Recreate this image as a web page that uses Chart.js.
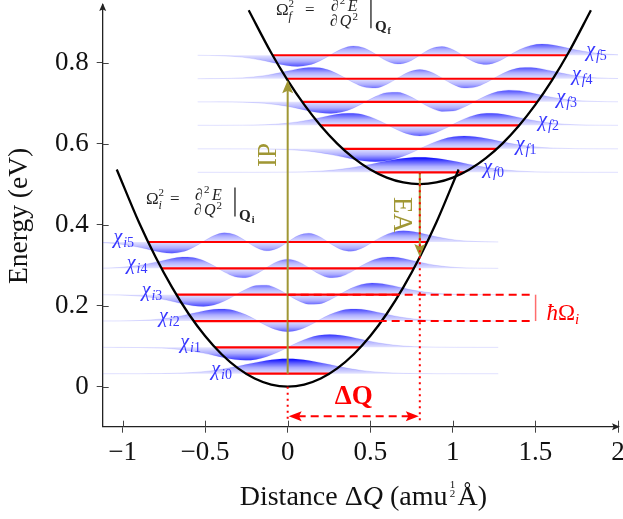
<!DOCTYPE html>
<html>
<head>
<meta charset="utf-8">
<script src="https://cdn.jsdelivr.net/npm/chart.js@4.4.0/dist/chart.umd.min.js"></script>
<style>
  html, body { margin: 0; padding: 0; background: #fff; }
</style>
</head>
<body>
<canvas id="chart" width="623" height="519"></canvas>
<script>
// axis ticks
const xTicks = [-1, -0.5, 0, 0.5, 1, 1.5, 2];
const xTickLabels = ['\u22121', '\u22120.5', '0', '0.5', '1', '1.5', '2'];
const yTicks = [0, 0.2, 0.4, 0.6, 0.8];
const yTickLabels = ['0', '0.2', '0.4', '0.6', '0.8'];

// potential wells
const wellIX = [-1.035, -0.9, -0.8, -0.7, -0.6, -0.5, -0.4, -0.3, -0.2, -0.1, 0, 0.1, 0.2, 0.3, 0.4, 0.5, 0.6, 0.7, 0.8, 0.9, 1.035];
const wellIY = [0.536, 0.405, 0.32, 0.245, 0.18, 0.125, 0.08, 0.045, 0.02, 0.005, 0, 0.005, 0.02, 0.045, 0.08, 0.125, 0.18, 0.245, 0.32, 0.405, 0.536];
const wellFX = [-0.236, -0.1, 0, 0.1, 0.2, 0.3, 0.4, 0.5, 0.6, 0.7, 0.8, 0.9, 1.0, 1.1, 1.2, 1.3, 1.4, 1.5, 1.6, 1.7, 1.836];
const wellFY = [0.929, 0.824, 0.756, 0.696, 0.644, 0.6, 0.564, 0.536, 0.516, 0.504, 0.5, 0.504, 0.516, 0.536, 0.564, 0.6, 0.644, 0.696, 0.756, 0.824, 0.929];

// vibrational levels
const levelsI = [0.032, 0.097, 0.162, 0.227, 0.292, 0.357];
const levelsILeft = [-0.253, -0.440, -0.569, -0.674, -0.764, -0.845];
const levelsIRight = [0.253, 0.440, 0.569, 0.674, 0.764, 0.845];
const levelsF = [0.529, 0.587, 0.645, 0.703, 0.760, 0.818];
const levelsFLeft = [0.531, 0.334, 0.198, 0.088, -0.006, -0.092];
const levelsFRight = [1.069, 1.266, 1.402, 1.512, 1.606, 1.692];
const stateNamesI = ['i0', 'i1', 'i2', 'i3', 'i4', 'i5'];
const stateNamesF = ['f0', 'f1', 'f2', 'f3', 'f4', 'f5'];

// wavefunction sample positions and shapes
const waveXI = [-1.275, -1.148, -1.02, -0.893, -0.765, -0.701, -0.638, -0.574, -0.51, -0.446, -0.383, -0.319, -0.255, -0.191, -0.128, -0.064, 0,
  0.064, 0.128, 0.191, 0.255, 0.319, 0.383, 0.446, 0.51, 0.574, 0.638, 0.701, 0.765, 0.893, 1.02, 1.148, 1.275];
const waveXF = [-0.545, -0.411, -0.276, -0.142, -0.007, 0.060, 0.128, 0.195, 0.262, 0.329, 0.397, 0.464, 0.531, 0.598, 0.666, 0.733, 0.8,
  0.867, 0.934, 1.002, 1.069, 1.136, 1.204, 1.271, 1.338, 1.405, 1.473, 1.540, 1.607, 1.742, 1.876, 2.011, 2.145];
const psi0 = [0, 0, .0003, .002, .011, .023, .044, .080, .135, .216, .325, .458, .607, .755, .883, .969, 1, .969, .883, .755, .607, .458, .325, .216, .135, .080, .044, .023, .011, .002, .0003, 0, 0];
const psi1 = [0, 0, -.002, -.011, -.047, -.089, -.155, -.253, -.383, -.535, -.689, -.809, -.858, -.801, -.624, -.343, 0, .343, .624, .801, .858, .809, .689, .535, .383, .253, .155, .089, .047, .011, .002, 0, 0];
const psi2 = [0, .001, .007, .036, .134, .228, .357, .513, .670, .784, .804, .688, .429, .067, -.312, -.600, -.707, -.600, -.312, .067, .429, .688, .804, .784, .670, .513, .357, .228, .134, .036, .007, .001, 0];
const psi3 = [-.001, -.004, -.022, -.095, -.289, -.439, -.603, -.736, -.781, -.683, -.422, -.041, .350, .613, .637, .402, 0, -.402, -.637, -.613, -.350, .041, .422, .683, .781, .736, .603, .439, .289, .095, .022, .004, .001];
const psi4 = [.002, .012, .057, .204, .497, .656, .756, .727, .525, .166, -.249, -.559, -.619, -.383, .045, .448, .612, .448, .045, -.383, -.619, -.559, -.249, .166, .525, .727, .756, .656, .497, .204, .057, .012, .002];
const psi5 = [-.005, -.029, -.124, -.366, -.684, -.749, -.656, -.376, .035, .427, .613, .479, .078, -.367, -.584, -.431, 0, .431, .584, .367, -.078, -.479, -.613, -.427, -.035, .376, .656, .749, .684, .366, .124, .029, .005];
const psiStates = [psi0, psi1, psi2, psi3, psi4, psi5];
const waveScale = 0.037;

// annotation anchors (data units)
const ipArrow = { x: 0, from: 0.032, to: 0.756 };
const eaArrow = { x: 0.8, from: 0.529, to: 0.32 };
const dqArrow = { from: 0, to: 0.8, y: -0.073 };
const dropFloor = -0.086;
const hwBox = { x0: 0, x1: 1.495, yTop: 0.227, yBot: 0.162 };

const OLIVE = 'rgb(160,151,52)';
const RED = 'rgb(255,0,0)';
const BLUE = 'rgb(55,55,255)';
const SERIF = '"Liberation Serif", "DejaVu Serif", serif';

function waveFill(level) {
  return function (context) {
    const chart = context.chart;
    if (!chart.chartArea) return 'rgba(0,0,255,0.3)';
    const ys = chart.scales.y;
    const top = ys.getPixelForValue(level + waveScale);
    const bot = ys.getPixelForValue(level - waveScale);
    const g = chart.ctx.createLinearGradient(0, top, 0, bot);
    g.addColorStop(0, 'rgba(0,0,255,1)');
    g.addColorStop(0.14, 'rgba(0,0,255,0.65)');
    g.addColorStop(0.3, 'rgba(0,0,255,0.32)');
    g.addColorStop(0.5, 'rgba(0,0,255,0.1)');
    g.addColorStop(0.7, 'rgba(0,0,255,0.32)');
    g.addColorStop(0.86, 'rgba(0,0,255,0.65)');
    g.addColorStop(1, 'rgba(0,0,255,1)');
    return g;
  };
}

const datasets = [];
function addWaves(levels, xs) {
  levels.forEach((lv, n) => {
    datasets.push({
      data: xs.map((x, k) => ({ x: x, y: lv + waveScale * psiStates[n][k] })),
      fill: { value: lv },
      backgroundColor: waveFill(lv),
      borderColor: 'rgba(70,70,255,0.16)',
      borderWidth: 1,
      cubicInterpolationMode: 'monotone',
      pointRadius: 0,
      order: 3
    });
  });
}
addWaves(levelsI, waveXI);
addWaves(levelsF, waveXF);

function addLevels(levels, left, right) {
  levels.forEach((lv, n) => {
    datasets.push({
      data: [{ x: left[n], y: lv }, { x: right[n], y: lv }],
      borderColor: RED, borderWidth: 2.2, fill: false, pointRadius: 0, order: 2
    });
  });
}
addLevels(levelsI, levelsILeft, levelsIRight);
addLevels(levelsF, levelsFLeft, levelsFRight);

datasets.push({
  data: wellIX.map((x, k) => ({ x: x, y: wellIY[k] })),
  borderColor: '#000', borderWidth: 2.3, fill: false, pointRadius: 0,
  cubicInterpolationMode: 'monotone', order: 1
});
datasets.push({
  data: wellFX.map((x, k) => ({ x: x, y: wellFY[k] })),
  borderColor: '#000', borderWidth: 2.3, fill: false, pointRadius: 0,
  cubicInterpolationMode: 'monotone', order: 1
});

function arrowHead(ctx, x, y, angle, len, wid, color) {
  ctx.save();
  ctx.translate(x, y);
  ctx.rotate(angle);
  ctx.fillStyle = color;
  ctx.beginPath();
  ctx.moveTo(0, 0);
  ctx.lineTo(-len, -wid / 2);
  ctx.lineTo(-len * 0.8, 0);
  ctx.lineTo(-len, wid / 2);
  ctx.closePath();
  ctx.fill();
  ctx.restore();
}

function chiLabel(ctx, name, x, y, alignRight) {
  ctx.font = 'italic 20px ' + SERIF;
  const wChi = ctx.measureText('\u03c7').width;
  ctx.font = 'italic 14px ' + SERIF;
  const wa = ctx.measureText(name[0]).width;
  ctx.font = '14px ' + SERIF;
  const wb = ctx.measureText(name[1]).width;
  const total = wChi + 1 + wa + wb;
  const x0 = alignRight ? x - total : x;
  ctx.fillStyle = BLUE;
  ctx.textAlign = 'left';
  ctx.textBaseline = 'alphabetic';
  ctx.font = 'italic 20px ' + SERIF;
  ctx.fillText('\u03c7', x0, y + 1);
  ctx.font = 'italic 14px ' + SERIF;
  ctx.fillText(name[0], x0 + wChi + 1, y + 5);
  ctx.font = '14px ' + SERIF;
  ctx.fillText(name[1], x0 + wChi + 1 + wa, y + 5);
}

function formula(ctx, x0, yb, sub, off) {
  ctx.fillStyle = '#222';
  ctx.textAlign = 'left';
  ctx.textBaseline = 'alphabetic';
  ctx.font = '17px ' + SERIF;
  ctx.fillText('\u03a9', x0, yb);
  ctx.font = '11px ' + SERIF;
  ctx.fillText('2', x0 + 12.5, yb - 8);
  ctx.font = 'italic 12px ' + SERIF;
  ctx.fillText(sub, x0 + 12.5, yb + 5);
  ctx.font = '17px ' + SERIF;
  ctx.fillText('=', x0 + off.eq, yb);
  // numerator
  const fx = x0 + off.frac;
  ctx.font = 'italic 16px ' + SERIF;
  ctx.fillText('\u2202', fx + 1, yb - 4);
  let w = ctx.measureText('\u2202').width;
  ctx.font = '11px ' + SERIF;
  ctx.fillText('2', fx + w + 2, yb - 11);
  ctx.font = 'italic 16px ' + SERIF;
  ctx.fillText('E', fx + w + 10, yb - 4);
  // denominator
  ctx.fillText('\u2202', fx, yb + 11);
  ctx.fillText('Q', fx + w + 2, yb + 11);
  const wq = ctx.measureText('Q').width;
  ctx.font = '11px ' + SERIF;
  ctx.fillText('2', fx + w + 3 + wq, yb + 5);
  // evaluation bar
  ctx.strokeStyle = '#222';
  ctx.lineWidth = 1.3;
  ctx.beginPath();
  ctx.moveTo(x0 + off.bar, yb - 16);
  ctx.lineTo(x0 + off.bar, yb + 13);
  ctx.stroke();
  ctx.font = 'bold 15px ' + SERIF;
  ctx.fillText('Q', x0 + off.q, yb + 16);
  w = ctx.measureText('Q').width;
  ctx.font = 'bold 10px ' + SERIF;
  ctx.fillText(sub, x0 + off.q + w + 1, yb + 19);
}

const annotate = {
  id: 'annotate',
  afterDatasetsDraw(chart) {
    const ctx = chart.ctx;
    const xs = chart.scales.x, ys = chart.scales.y;
    const px = v => xs.getPixelForValue(v);
    const py = v => ys.getPixelForValue(v);
    ctx.save();

    // IP and EA arrows
    ctx.strokeStyle = OLIVE;
    ctx.lineWidth = 2;
    ctx.beginPath();
    ctx.moveTo(px(ipArrow.x), py(ipArrow.from));
    ctx.lineTo(px(ipArrow.x), py(ipArrow.to) + 10);
    ctx.moveTo(px(eaArrow.x), py(eaArrow.from));
    ctx.lineTo(px(eaArrow.x), py(eaArrow.to) - 10);
    ctx.stroke();
    arrowHead(ctx, px(ipArrow.x), py(ipArrow.to), -Math.PI / 2, 13, 11, OLIVE);
    arrowHead(ctx, px(eaArrow.x), py(eaArrow.to), Math.PI / 2, 13, 11, OLIVE);

    // dotted drop lines
    ctx.strokeStyle = RED;
    ctx.lineWidth = 2;
    ctx.setLineDash([2, 4]);
    ctx.beginPath();
    ctx.moveTo(px(0), py(0));
    ctx.lineTo(px(0), py(dropFloor));
    ctx.moveTo(px(eaArrow.x), py(eaArrow.from));
    ctx.lineTo(px(eaArrow.x), py(dropFloor));
    ctx.stroke();

    // dashed hbar Omega box
    ctx.setLineDash([8, 5]);
    ctx.beginPath();
    ctx.moveTo(px(hwBox.x0), py(hwBox.yTop));
    ctx.lineTo(px(hwBox.x1), py(hwBox.yTop));
    ctx.moveTo(px(hwBox.x0), py(hwBox.yBot));
    ctx.lineTo(px(hwBox.x1), py(hwBox.yBot));
    ctx.stroke();
    ctx.setLineDash([]);
    ctx.strokeStyle = 'rgba(255,60,60,0.75)';
    ctx.lineWidth = 1.5;
    ctx.beginPath();
    ctx.moveTo(px(hwBox.x1) + 1, py(hwBox.yTop));
    ctx.lineTo(px(hwBox.x1) + 1, py(hwBox.yBot));
    ctx.stroke();

    // Delta Q double arrow
    ctx.strokeStyle = RED;
    ctx.lineWidth = 2;
    ctx.setLineDash([8, 5]);
    ctx.beginPath();
    ctx.moveTo(px(dqArrow.from) + 10, py(dqArrow.y));
    ctx.lineTo(px(dqArrow.to) - 10, py(dqArrow.y));
    ctx.stroke();
    ctx.setLineDash([]);
    arrowHead(ctx, px(dqArrow.from) + 1, py(dqArrow.y), Math.PI, 13, 10, RED);
    arrowHead(ctx, px(dqArrow.to) - 1, py(dqArrow.y), 0, 13, 10, RED);

    // text labels
    ctx.textAlign = 'center';
    ctx.textBaseline = 'middle';
    ctx.fillStyle = RED;
    ctx.font = 'bold 27px ' + SERIF;
    ctx.fillText('\u0394Q', px(0.40), py(-0.025));

    ctx.textAlign = 'left';
    ctx.textBaseline = 'alphabetic';
    ctx.font = 'italic 23px ' + SERIF;
    const hx = px(1.567), hy = py(0.185) + 8;
    ctx.fillText('\u0127', hx, hy);
    let w = ctx.measureText('\u0127').width;
    ctx.font = '23px ' + SERIF;
    ctx.fillText('\u03a9', hx + w, hy);
    w += ctx.measureText('\u03a9').width;
    ctx.font = 'italic 15px ' + SERIF;
    ctx.fillText('i', hx + w, hy + 4);

    ctx.fillStyle = OLIVE;
    ctx.font = '27px ' + SERIF;
    ctx.textAlign = 'center';
    ctx.textBaseline = 'middle';
    ctx.save();
    ctx.translate(px(-0.114), py(0.572));
    ctx.rotate(-Math.PI / 2);
    ctx.fillText('IP', 0, 0);
    ctx.restore();
    ctx.save();
    ctx.translate(px(0.685), py(0.424));
    ctx.rotate(Math.PI / 2);
    ctx.fillText('EA', 0, 0);
    ctx.restore();

    // state labels
    levelsI.forEach((lv, n) => chiLabel(ctx, stateNamesI[n], px(levelsILeft[n]) - 14, py(lv), true));
    levelsF.forEach((lv, n) => chiLabel(ctx, stateNamesF[n], px(levelsFRight[n]) + 19, py(lv), false));

    // curvature formulas
    formula(ctx, px(-0.071), py(0.917), 'f', { eq: 29, frac: 54, bar: 95, q: 99 });
    formula(ctx, px(-0.858), py(0.452), 'i', { eq: 24, frac: 48, bar: 89, q: 93 });

    ctx.restore();
  },
  afterDraw(chart) {
    const ctx = chart.ctx;
    const area = chart.chartArea;
    const xs = chart.scales.x, ys = chart.scales.y;
    ctx.save();
    // inner halves of the tick marks
    ctx.strokeStyle = '#444';
    ctx.lineWidth = 1;
    ctx.beginPath();
    xTicks.forEach(v => {
      const p = Math.round(xs.getPixelForValue(v)) + 0.5;
      ctx.moveTo(p, area.bottom);
      ctx.lineTo(p, area.bottom - 6);
    });
    yTicks.forEach(v => {
      const p = Math.round(ys.getPixelForValue(v)) + 0.5;
      ctx.moveTo(area.left, p);
      ctx.lineTo(area.left + 6, p);
    });
    ctx.stroke();
    // axis arrow tips
    arrowHead(ctx, area.left, area.top - 2, -Math.PI / 2, 8, 7, '#222');
    arrowHead(ctx, area.right + 2, area.bottom, 0, 8, 7, '#222');

    // x axis title
    const base = 505;
    const cx = (area.left + area.right) / 2 + 3;
    const reg = '28px ' + SERIF, ital = 'italic 28px ' + SERIF;
    const parts = [['Distance \u0394', reg], ['Q', ital], [' (amu', reg]];
    let total = 0;
    parts.forEach(p => { ctx.font = p[1]; total += ctx.measureText(p[0]).width; });
    const fracW = 10;
    ctx.font = reg;
    total += fracW + ctx.measureText('\u00c5)').width;
    let x = cx - total / 2;
    ctx.fillStyle = '#111';
    ctx.textAlign = 'left';
    ctx.textBaseline = 'alphabetic';
    parts.forEach(p => { ctx.font = p[1]; ctx.fillText(p[0], x, base); x += ctx.measureText(p[0]).width; });
    ctx.font = '11px ' + SERIF;
    ctx.textAlign = 'center';
    ctx.fillText('1', x + fracW / 2, base - 17);
    ctx.fillText('2', x + fracW / 2, base - 8);
    ctx.textAlign = 'left';
    x += fracW;
    ctx.font = reg;
    ctx.fillText('\u00c5)', x, base);
    ctx.restore();
  }
};

new Chart(document.getElementById('chart'), {
  type: 'line',
  data: { datasets: datasets },
  options: {
    responsive: false,
    animation: false,
    layout: { padding: { top: 5, right: 5, left: 0, bottom: 0 } },
    plugins: { legend: { display: false }, tooltip: { enabled: false } },
    elements: { point: { radius: 0 } },
    scales: {
      x: {
        type: 'linear', min: -1.12, max: 2,
        afterBuildTicks: s => { s.ticks = xTicks.map(v => ({ value: v })); },
        afterFit: s => { s.height = 92.3; s.paddingLeft = 0; s.paddingRight = 0; },
        grid: { drawOnChartArea: false, tickLength: 6, color: '#444', lineWidth: 1 },
        border: { color: '#222', width: 1.3 },
        ticks: {
          autoSkip: false, maxRotation: 0, padding: 4, color: '#111',
          font: { family: SERIF, size: 27 },
          callback: (v, i) => xTickLabels[i]
        }
      },
      y: {
        type: 'linear', min: -0.0988, max: 0.942,
        afterBuildTicks: s => { s.ticks = yTicks.map(v => ({ value: v })); },
        afterFit: s => { s.width = 102.7; s.paddingTop = 0; s.paddingBottom = 0; },
        grid: { drawOnChartArea: false, tickLength: 6, color: '#444', lineWidth: 1 },
        border: { color: '#222', width: 1.3 },
        ticks: {
          padding: 8, color: '#111',
          font: { family: SERIF, size: 27 },
          callback: (v, i) => yTickLabels[i]
        },
        title: {
          display: true, text: 'Energy (eV)', color: '#111',
          font: { family: SERIF, size: 27.5 },
          padding: { top: 3, bottom: 0 }
        }
      }
    }
  },
  plugins: [annotate]
});
</script>
</body>
</html>
